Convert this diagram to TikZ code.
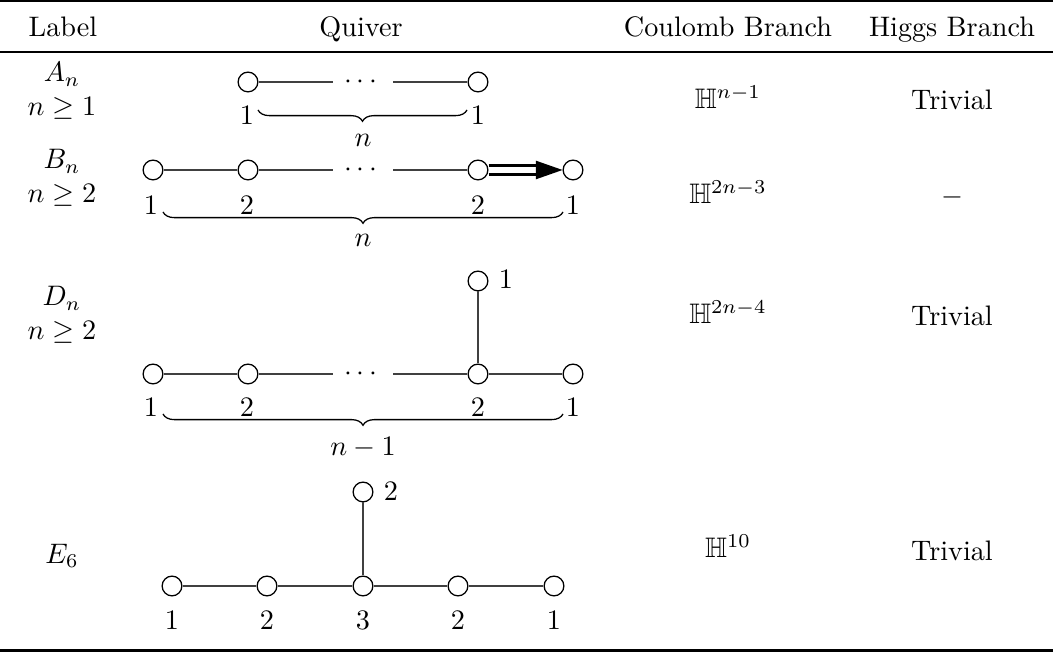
\documentclass[tikz,border=0pt]{standalone}
\usepackage{amsmath,amssymb}
\usetikzlibrary{decorations.pathreplacing}
\tikzset{
  vtx/.style={circle,draw=black,line width=0.45pt,fill=white,minimum size=7pt,inner sep=0pt},
  edge/.style={draw=black!75,line width=0.5pt},
  dotsnode/.style={inner sep=0pt,minimum width=21pt,minimum height=7pt},
  lbl/.style={inner sep=0pt},
  twoline/.style={inner sep=0pt,align=center},
  brc/.style={decorate,decoration={brace,mirror,amplitude=4pt},line width=0.45pt},
  dblline/.style={line width=1pt},
}
\begin{document}
\begin{tikzpicture}[x=0.3546pt,y=-0.3546pt]
\useasboundingbox (0,0) rectangle (1053,652);
% rules
\draw[line width=0.8pt] (0,1.2) -- (1053,1.2);
\draw[line width=0.5pt] (0,52) -- (1053,52);
\draw[line width=0.8pt] (0,650.5) -- (1053,650.5);
% header
\node[lbl,anchor=base] (hl) at (63,37) {Label};
\node[lbl,anchor=base] (hq) at (361,37) {Quiver};
\node[lbl,anchor=base] (hc) at (728,37) {Coulomb Branch};
\node[lbl,anchor=base] (hh) at (952,37) {Higgs Branch};

% ---------- A_n ----------
\node[twoline] (la) at (62,91) {$A_n$\\$n\geq 1$};
\node[vtx] (a1) at (248,82) {};
\node[dotsnode] (ad) at (363,82) {$\cdots$};
\node[vtx] (a2) at (478,82) {};
\draw[edge] (a1) -- (ad.west);
\draw[edge] (ad.east) -- (a2);
\node[lbl] (a1l) at (247,115) {$1$};
\node[lbl] (a2l) at (478,115) {$1$};
\draw[brc] (258,110) coordinate (abL) -- (467,110) coordinate (abR);
\node[lbl] (an) at (363,140) {$n$};
\node[lbl] (ca) at (728,97) {$\mathbb{H}^{n-1}$};
\node[lbl] (ha) at (952,100) {Trivial};

% ---------- B_n ----------
\node[twoline] (lb) at (62,178) {$B_n$\\$n\geq 2$};
\node[vtx] (b1) at (153,170) {};
\node[vtx] (b2) at (248,170) {};
\node[dotsnode] (bd) at (363,170) {$\cdots$};
\node[vtx] (b3) at (478,170) {};
\node[vtx] (b4) at (573,170) {};
\draw[edge] (b1) -- (b2);
\draw[edge] (b2) -- (bd.west);
\draw[edge] (bd.east) -- (b3);
\draw[dblline] ([yshift=1.5pt]b3.east) -- ([xshift=-9.2pt,yshift=1.5pt]b4.west);
\draw[dblline] ([yshift=-1.5pt]b3.east) -- ([xshift=-9.2pt,yshift=-1.5pt]b4.west);
\fill ([xshift=-9.4pt,yshift=3.3pt]b4.west) -- (b4.west) -- ([xshift=-9.4pt,yshift=-3.3pt]b4.west) -- cycle;
\node[lbl] (b1l) at (151,205) {$1$};
\node[lbl] (b2l) at (247,205) {$2$};
\node[lbl] (b3l) at (478,205) {$2$};
\node[lbl] (b4l) at (573,205) {$1$};
\draw[brc] (163,212) coordinate (bbL) -- (563,212) coordinate (bbR);
\node[lbl] (bn) at (363,240) {$n$};
\node[lbl] (cb) at (728,192) {$\mathbb{H}^{2n-3}$};
\node[lbl] (hb) at (952,197) {$-$};

% ---------- D_n ----------
\node[twoline] (ld) at (62,315) {$D_n$\\$n\geq 2$};
\node[vtx] (d0) at (478,281) {};
\node[lbl] (d0l) at (506,279) {$1$};
\node[vtx] (d1) at (153,374) {};
\node[vtx] (d2) at (248,374) {};
\node[dotsnode] (dd) at (363,374) {$\cdots$};
\node[vtx] (d3) at (478,374) {};
\node[vtx] (d4) at (573,374) {};
\draw[edge] (d1) -- (d2);
\draw[edge] (d2) -- (dd.west);
\draw[edge] (dd.east) -- (d3);
\draw[edge] (d3) -- (d4);
\draw[edge] (d3) -- (d0);
\node[lbl] (d1l) at (151,407) {$1$};
\node[lbl] (d2l) at (247,407) {$2$};
\node[lbl] (d3l) at (478,407) {$2$};
\node[lbl] (d4l) at (573,407) {$1$};
\draw[brc] (163,414) coordinate (dbL) -- (563,414) coordinate (dbR);
\node[lbl] (dn) at (363,448) {$n-1$};
\node[lbl] (cd) at (728,312) {$\mathbb{H}^{2n-4}$};
\node[lbl] (hd) at (952,316) {Trivial};

% ---------- E_6 ----------
\node[lbl] (le) at (62,556) {$E_6$};
\node[vtx] (e0) at (363,492) {};
\node[lbl] (e0l) at (391,491) {$2$};
\node[vtx] (e1) at (172,586) {};
\node[vtx] (e2) at (267,586) {};
\node[vtx] (e3) at (363,586) {};
\node[vtx] (e4) at (458,586) {};
\node[vtx] (e5) at (554,586) {};
\draw[edge] (e1) -- (e2);
\draw[edge] (e2) -- (e3);
\draw[edge] (e3) -- (e4);
\draw[edge] (e4) -- (e5);
\draw[edge] (e3) -- (e0);
\node[lbl] (e1l) at (172,620) {$1$};
\node[lbl] (e2l) at (267,620) {$2$};
\node[lbl] (e3l) at (363,620) {$3$};
\node[lbl] (e4l) at (458,620) {$2$};
\node[lbl] (e5l) at (554,620) {$1$};
\node[lbl] (ce) at (728,546) {$\mathbb{H}^{10}$};
\node[lbl] (he) at (952,551) {Trivial};
\end{tikzpicture}
\end{document}
